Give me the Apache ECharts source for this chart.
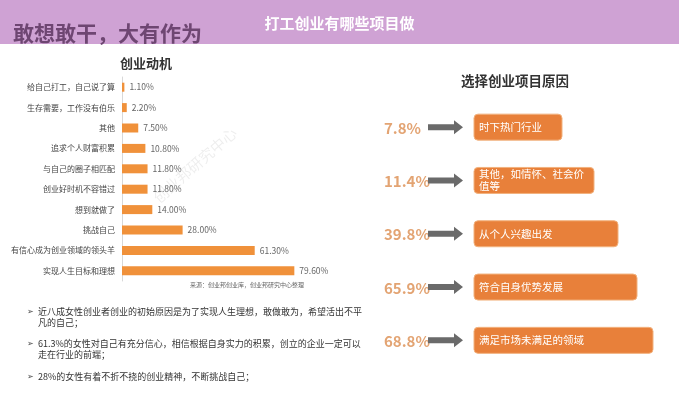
<!DOCTYPE html>
<html>
<head>
<meta charset="utf-8">
<script src="https://cdn.jsdelivr.net/npm/echarts@6/dist/echarts.min.js"></script>
<style>
html,body{margin:0;padding:0;background:#fff;}
#main{width:679px;height:400px;}
</style>
</head>
<body>
<div id="main"></div>
<script>
// ---- data ----
var motiveCategories = ['给自己打工，自己说了算','生存需要，工作没有伯乐','其他','追求个人财富积累','与自己的圈子相匹配','创业好时机不容错过','想到就做了','挑战自己','有信心成为创业领域的领头羊','实现人生目标和理想'];
var motiveValues = [1.10, 2.20, 7.50, 10.80, 11.80, 11.80, 14.00, 28.00, 61.30, 79.60];
var reasonCategories = ['时下热门行业','其他，如情怀、社会价值等','从个人兴趣出发','符合自身优势发展','满足市场未满足的领域'];
var reasonValues = [7.8, 11.4, 39.8, 65.9, 68.8];
var bulletTexts = [
  '近八成女性创业者创业的初始原因是为了实现人生理想，敢做敢为，希望活出不平\n凡的自己；',
  '61.3%的女性对自己有充分信心，相信根据自身实力的积累，创立的企业一定可以\n走在行业的前端；',
  '28%的女性有着不折不挠的创业精神，不断挑战自己；'
];
// ---- layout (not data) ----
var boxWidths = [88, 120, 144, 163, 179];
var FONT = '"Noto Sans CJK SC", "Noto Sans", sans-serif';

var chart = echarts.init(document.getElementById('main'), null, {renderer: 'canvas'});

var option = {
  backgroundColor: '#ffffff',
  textStyle: {fontFamily: FONT},
  animation: false,
  title: [
    {text: '打工创业有哪些项目做', left: 'center', top: 11,
     textStyle: {color: '#ffffff', fontSize: 15, fontWeight: 'bold', fontFamily: FONT}},
    {text: '创业动机', left: 115, top: 52,
     textStyle: {color: '#333', fontSize: 13, fontWeight: 'bold', fontFamily: FONT}},
    {text: '选择创业项目原因', left: 456, top: 69,
     textStyle: {color: '#333', fontSize: 13.5, fontWeight: 'bold', fontFamily: FONT}}
  ],
  graphic: [
    {type: 'rect', z: -1, shape: {x: 0, y: 0, width: 679, height: 44}, style: {fill: '#CFA2D4'}},
    {type: 'text', left: 13, top: 23, z: 5,
     style: {text: '敢想敢干，大有作为', fill: '#6E4672', font: 'bold 21px ' + FONT}},
    {type: 'text', x: 195, y: 165, rotation: 0.72, originX: 0, originY: 0,
     style: {text: '创业邦研究中心', fill: 'rgba(0,0,0,0.07)', font: '15px ' + FONT, align: 'center', verticalAlign: 'middle'}},
    {type: 'text', left: 190, top: 282,
     style: {text: '来源：创业邦创业库，创业邦研究中心整理', fill: '#666', font: '6px ' + FONT}},
    {type: 'text', left: 27, top: 307,
     style: {text: '➢', fill: '#444', font: '8px ' + FONT}},
    {type: 'text', left: 38, top: 306,
     style: {text: bulletTexts[0], fill: '#333', font: '9px ' + FONT, lineHeight: 11}},
    {type: 'text', left: 27, top: 339,
     style: {text: '➢', fill: '#444', font: '8px ' + FONT}},
    {type: 'text', left: 38, top: 338,
     style: {text: bulletTexts[1], fill: '#333', font: '9px ' + FONT, lineHeight: 11}},
    {type: 'text', left: 27, top: 372,
     style: {text: '➢', fill: '#444', font: '8px ' + FONT}},
    {type: 'text', left: 38, top: 371,
     style: {text: bulletTexts[2], fill: '#333', font: '9px ' + FONT, lineHeight: 11}}
  ],
  grid: [
    {left: 122, top: 77, width: 216.5, height: 204, containLabel: false},
    {left: 380, top: 100.5, width: 290, height: 266.5, containLabel: false}
  ],
  xAxis: [
    {gridIndex: 0, type: 'value', min: 0, max: 100, show: false},
    {gridIndex: 1, type: 'value', min: 0, max: 100, show: false}
  ],
  yAxis: [
    {gridIndex: 0, type: 'category', inverse: true, data: motiveCategories,
     axisLine: {show: true, lineStyle: {color: '#d8d8d8', width: 1}},
     axisTick: {show: false},
     axisLabel: {fontSize: 8, color: '#444', margin: 7, fontFamily: FONT}},
    {gridIndex: 1, type: 'category', inverse: true, data: reasonCategories, show: false}
  ],
  series: [
    {
      type: 'bar', xAxisIndex: 0, yAxisIndex: 0,
      data: motiveValues, barWidth: 9,
      itemStyle: {color: '#F0913A'},
      label: {show: true, position: 'right', distance: 5, fontSize: 8.5, color: '#666',
              fontFamily: FONT,
              formatter: function (p) { return p.value.toFixed(2) + '%'; }}
    },
    {
      type: 'custom', xAxisIndex: 1, yAxisIndex: 1,
      data: reasonValues.map(function (v, i) { return [v, i]; }),
      renderItem: function (params, api) {
        var idx = api.value(1);
        var y = api.coord([0, idx])[1];
        var pct = api.value(0);
        var bw = boxWidths[params.dataIndex];
        var ax = 428, ay = y;
        return {
          type: 'group',
          children: [
            {type: 'text', style: {text: pct.toFixed(1) + '%', x: 384, y: y + 1,
              fill: '#E3A473', font: 'bold 15px ' + FONT, verticalAlign: 'middle', align: 'left'}},
            {type: 'polygon', shape: {points: [
              [ax, ay - 3], [ax + 26, ay - 3], [ax + 26, ay - 7], [ax + 35, ay],
              [ax + 26, ay + 7], [ax + 26, ay + 3], [ax, ay + 3]]},
              style: {fill: '#6a6a6a'}},
            {type: 'rect', shape: {x: 474, y: y - 13, width: bw, height: 26, r: 4},
              style: {fill: '#E8803A', stroke: '#F2B27E', lineWidth: 1}},
            {type: 'text', style: {text: reasonCategories[params.dataIndex], x: 479, y: y,
              width: bw - 12, overflow: 'break', lineHeight: 12,
              fill: '#ffffff', font: '10.5px ' + FONT, verticalAlign: 'middle', align: 'left'}}
          ]
        };
      }
    }
  ]
};
chart.setOption(option);
</script>
</body>
</html>
